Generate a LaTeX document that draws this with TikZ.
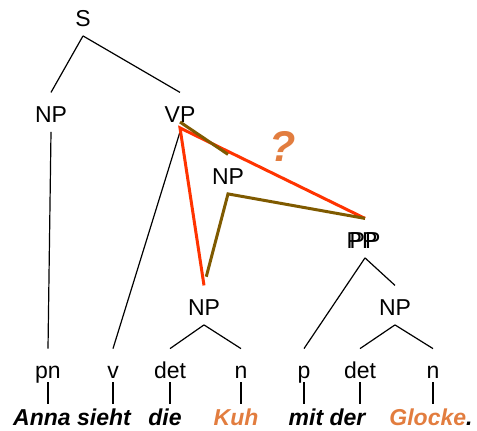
\documentclass[tikz,border=0pt]{standalone}
\usepackage{fontspec}
\setmainfont{Liberation Sans}
\definecolor{redline}{HTML}{FF3300}
\definecolor{brownline}{HTML}{7F5A00}
\definecolor{wordorange}{HTML}{E27D3F}
\begin{document}
\begin{tikzpicture}[x=0.5pt,y=0.5pt]
\tikzstyle{every node}+=[inner sep=0pt, anchor=base]
\tikzstyle{cat}=[font=\fontsize{11.5}{13}\selectfont, text height=14.6pt, text depth=4.75pt]
\tikzstyle{tag}=[font=\fontsize{11.5}{13}\selectfont, text height=14.5pt, text depth=2pt]
\tikzstyle{word}=[font=\fontsize{11.5}{13}\selectfont\bfseries\itshape, text height=10.5pt, text depth=0pt]
\tikzstyle{branch}=[black, line width=0.6pt]
\useasboundingbox (0,0) rectangle (477,-430);
% categories
\node [cat] (s) at (83,-26) {S};
\node [cat] (np1) at (51,-122) {NP};
\node [cat] (vp) at (180,-122) {VP};
\node [cat] (np2) at (228,-184) {NP};
\node [cat] (ppb) at (362,-248) {PP};
\node [cat] (pp) at (365,-248) {PP};
\node [cat] (np3) at (204,-315) {NP};
\node [cat] (np4) at (395,-315) {NP};
% parts of speech
\node [tag] (pn) at (48,-378) {pn};
\node [tag] (v) at (113,-378) {v};
\node [tag] (det1) at (170,-378) {det};
\node [tag] (n1) at (241,-378) {n};
\node [tag] (p) at (304,-378) {p};
\node [tag] (det2) at (360,-378) {det};
\node [tag] (n2) at (433,-378) {n};
% words
\node [word] (anna) at (72,-425) {Anna sieht};
\node [word] (die) at (165,-425) {die};
\node [word, text=wordorange] (kuh) at (236,-425) {Kuh};
\node [word] (mitder) at (327,-425) {mit der};
\node [word] (glocke) at (431,-425) {{\color{wordorange}Glocke}.};
\node [word, font=\fontsize{21.5}{24}\selectfont\bfseries\itshape, text=wordorange] (quest) at (283,-161) {?};
% tree
\draw [branch] (s.south) -- (np1.north);
\draw [branch] (s.south) -- (vp.north);
\draw [branch] (np1.south) -- (pn.north);
\draw [branch] (vp.south) -- (v.north);
\draw [branch] (np3.south) -- (det1.north);
\draw [branch] (np3.south) -- (n1.north);
\draw [branch] (pp.south) -- (p.north);
\draw [branch] (pp.south) -- (np4.north);
\draw [branch] (np4.south) -- (det2.north);
\draw [branch] (np4.south) -- (n2.north);
\draw [branch] (pn.south) -- (pn |- anna.north);
\draw [branch] (v.south) -- (v |- anna.north);
\draw [branch] (det1.south) -- (det1 |- die.north);
\draw [branch] (n1.south) -- (n1 |- kuh.north);
\draw [branch] (p.south) -- (p |- mitder.north);
\draw [branch] (det2.south) -- (det2 |- mitder.north);
\draw [branch] (n2.south) -- (n2 |- glocke.north);
% attachments
\draw [redline, line width=1.5pt] (np3.north) -- ([yshift=2pt]vp.south) -- (pp.north);
\draw [brownline, line width=1.5pt] (vp.base) -- (np2.north);
\draw [brownline, line width=1.5pt, shorten <=4.5pt] (np3.north) -- (np2.south) -- (pp.north);
\end{tikzpicture}
\end{document}
